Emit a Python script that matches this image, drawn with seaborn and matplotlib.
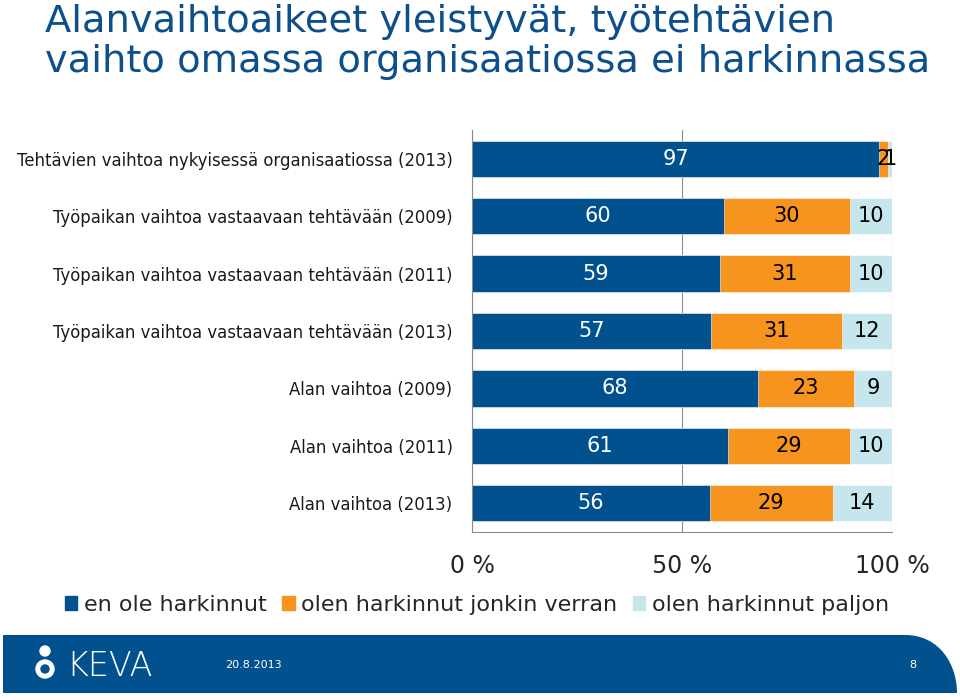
import numpy as np
import pandas as pd
import matplotlib.pyplot as plt
import seaborn as sns
from matplotlib.path import Path
from matplotlib.patches import PathPatch, Patch, Circle

# data
categories = [
    'Tehtävien vaihtoa nykyisessä organisaatiossa (2013)',
    'Työpaikan vaihtoa vastaavaan tehtävään (2009)',
    'Työpaikan vaihtoa vastaavaan tehtävään (2011)',
    'Työpaikan vaihtoa vastaavaan tehtävään (2013)',
    'Alan vaihtoa (2009)',
    'Alan vaihtoa (2011)',
    'Alan vaihtoa (2013)',
]
en_ole = [97, 60, 59, 57, 68, 61, 56]
jonkin_verran = [2, 30, 31, 31, 23, 29, 29]
paljon = [1, 10, 10, 12, 9, 10, 14]
series_names = ['en ole harkinnut', 'olen harkinnut jonkin verran', 'olen harkinnut paljon']
x_ticks = [0, 50, 100]
x_tick_labels = ['0 %', '50 %', '100 %']

title = 'Alanvaihtoaikeet yleistyvät, työtehtävien\nvaihto omassa organisaatiossa ei harkinnassa'
footer_date = '20.8.2013'
page_no = '8'

BLUE = '#02518f'
ORANGE = '#f7941d'
LIGHT = '#c6e6ee'
GRID = '#8c8c8c'

sns.set_style('white')
plt.rcParams['font.family'] = ['DejaVu Sans']

# 100 % stacked: normalise each row
df = pd.DataFrame({'kategoria': categories, 'en': en_ole,
                   'jonkin': jonkin_verran, 'paljon': paljon})
vals = df[['en', 'jonkin', 'paljon']]
share = vals.div(vals.sum(axis=1), axis=0) * 100
df['c1'] = share['en']
df['c2'] = df['c1'] + share['jonkin']
df['c3'] = df['c2'] + share['paljon']

fig = plt.figure(figsize=(9.6, 7), dpi=100)
ax = fig.add_axes([472 / 960, 1 - 532 / 700, 420 / 960, 402 / 700])
ax.set_axisbelow(True)

# draw cumulative layers back to front
for col, color in [('c3', LIGHT), ('c2', ORANGE), ('c1', BLUE)]:
    sns.barplot(data=df, x=col, y='kategoria', orient='h', color=color,
                saturation=1, width=0.63, edgecolor='white', linewidth=0.4, ax=ax)

# segment value labels
for i, row in df.iterrows():
    starts = [0, row['c1'], row['c2']]
    ends = [row['c1'], row['c2'], row['c3']]
    raw = [row['en'], row['jonkin'], row['paljon']]
    for k in range(3):
        ax.text((starts[k] + ends[k]) / 2, i, str(raw[k]), ha='center', va='center',
                fontsize=15, color='white' if k == 0 else 'black')

ax.set_xlim(0, 100)
ax.set_ylim(6.5, -0.5)
ax.set_xlabel('')
ax.set_ylabel('')
ax.set_xticks(x_ticks)
ax.set_xticklabels(x_tick_labels, fontsize=17)
ax.set_yticks(np.arange(-0.5, 7, 1), minor=True)
ax.tick_params(axis='y', which='major', length=0, pad=14, labelsize=11.9, labelcolor='#1a1a1a')
ax.tick_params(axis='y', which='minor', length=5, color=GRID, width=0.8)
ax.tick_params(axis='x', length=6, color=GRID, width=0.8, pad=10)
ax.xaxis.grid(True, color=GRID, linewidth=0.8)
ax.yaxis.grid(False)
sns.despine(ax=ax, top=True, right=True)
for s in ['left', 'bottom']:
    ax.spines[s].set_color(GRID)
    ax.spines[s].set_linewidth(0.8)

# title
fig.text(45 / 960, 1 - 4 / 700, title, ha='left', va='top', fontsize=27.6,
         color='#0d4f8b', linespacing=1.15)

# legend
handles = [Patch(color=c) for c in [BLUE, ORANGE, LIGHT]]
fig.legend(handles, series_names, loc='center', bbox_to_anchor=(0.497, 1 - 605 / 700),
           ncol=3, frameon=False, fontsize=16, handlelength=0.55, handleheight=0.55,
           handletextpad=0.3, columnspacing=0.7)

# footer band with logo
oax = fig.add_axes([0, 0, 1, 1])
oax.set_xlim(0, 960)
oax.set_ylim(700, 0)
oax.axis('off')
verts = [(3, 693), (3, 635), (905, 635), (940, 635), (957, 665), (957, 693), (3, 693)]
codes = [Path.MOVETO, Path.LINETO, Path.LINETO, Path.CURVE4, Path.CURVE4, Path.CURVE4,
         Path.CLOSEPOLY]
oax.add_patch(PathPatch(Path(verts, codes), facecolor=BLUE, edgecolor='none'))
oax.add_patch(Circle((45, 651), 5, color='white'))
oax.add_patch(Circle((45, 669), 9, color='white'))
oax.add_patch(Circle((45, 669), 4, color=BLUE))
oax.text(66, 667, 'KEVA', color='white', fontsize=24, ha='left', va='center',
         fontweight='light')
oax.text(225, 665, footer_date, color='white', fontsize=8, ha='left', va='center')
oax.text(913, 665, page_no, color='white', fontsize=8, ha='center', va='center')

fig.savefig('out.png', dpi=100)
